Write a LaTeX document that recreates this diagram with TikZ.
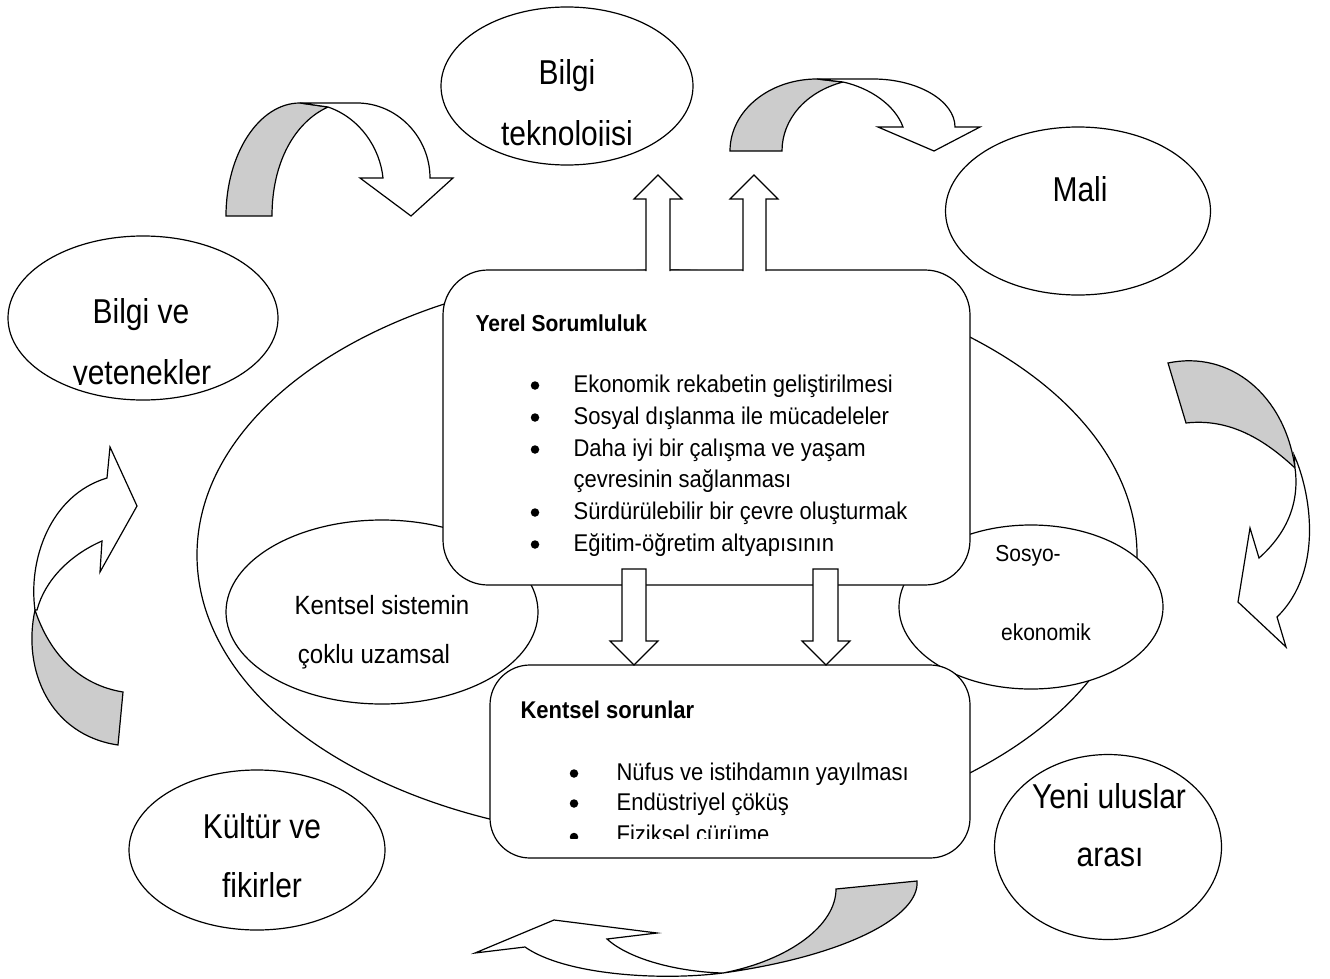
\documentclass[tikz,border=0pt]{standalone}
\usepackage{fontspec}
\setmainfont{Liberation Sans}
\usetikzlibrary{shapes.geometric}
\definecolor{shadegray}{RGB}{204,204,204}
\newcommand{\vstr}[1]{\scalebox{1}[1.15]{#1}}
\newcommand{\vstrb}[1]{\scalebox{1}[1.1]{#1}}
\begin{document}
\begin{tikzpicture}[x=1pt,y=-1pt,line width=1.2pt,
  oval/.style={draw,fill=white,ellipse,inner sep=0pt},
  rbox/.style={draw,fill=white,rectangle,inner sep=0pt},
  blockarrow/.style={draw,fill=white},
  backface/.style={draw,fill=shadegray},
  frontface/.style={draw,fill=white},
  lbl/.style={inner sep=0pt,anchor=base},
  lblw/.style={inner sep=0pt,anchor=base west},
  dotmark/.style={circle,fill=black,draw=none,inner sep=0pt,minimum size=8.5pt},
  bigtxt/.style={font=\fontsize{30}{36}\selectfont},
  midtxt/.style={font=\fontsize{24}{29}\selectfont},
  smtxt/.style={font=\fontsize{21}{25}\selectfont},
  bodytxt/.style={font=\fontsize{22}{26}\selectfont},
  headtxt/.style={font=\bfseries\fontsize{21}{25}\selectfont}
]
\useasboundingbox (0,0) rectangle (1330,979);

% big central ellipse
\node[oval,minimum width=940,minimum height=570] (bigell) at (667,555) {};
% inner ellipses
\node[oval,minimum width=312,minimum height=184] (kss) at (382,612) {};
\node[oval,minimum width=264,minimum height=164] (sosyo) at (1031,607) {};

% boxes
\node[rbox,rounded corners=45,minimum width=527,minimum height=315] (yerel) at (706.5,427.5) {};
\node[rbox,rounded corners=40,minimum width=480,minimum height=193] (kentsel) at (730,761.5) {};

% block arrows up
\draw[blockarrow] (646,271) -- (646,199) -- (634,199) -- (658,175) -- (682,199) -- (670,199) -- (670,271);
\draw[blockarrow] (743,271) -- (743,199) -- (730,199) -- (754,175) -- (778,199) -- (766,199) -- (766,271);
% block arrows down
\draw[blockarrow] (622,569) -- (646,569) -- (646,641) -- (658,641) -- (634,665) -- (610,641) -- (622,641) -- cycle;
\draw[blockarrow] (813,569) -- (838,569) -- (838,641) -- (850,641) -- (826,665) -- (802,641) -- (813,641) -- cycle;

% outer ellipses
\node[oval,minimum width=252,minimum height=158] (bt) at (567,86) {};
\node[oval,minimum width=265,minimum height=168] (mali) at (1078,211) {};
\node[oval,minimum width=270,minimum height=164] (bv) at (143,318) {};
\node[oval,minimum width=256,minimum height=160] (kf) at (257,850) {};
\node[oval,minimum width=227,minimum height=185] (yu) at (1108,847) {};

% curved arrow A (top left)
\draw[backface] (226,216) .. controls (226,154) and (259,103) .. (300,103) -- (328,107) .. controls (295,122) and (272,162) .. (272,216) -- cycle;
\draw[frontface] (300,103) -- (357,103) .. controls (397,103) and (430,137) .. (430,178) -- (453,178) -- (411,216) -- (360,178) -- (383,178) .. controls (380,148) and (360,118) .. (328,107) -- cycle;

% curved arrow B (top right)
\draw[backface] (730,151) .. controls (730,111) and (769,79) .. (817,79) -- (843,82) .. controls (805,92) and (782,120) .. (782,151) -- cycle;
\draw[frontface] (817,79) -- (873,79) .. controls (918,79) and (955,101) .. (955,127) -- (980,127) -- (934,151) -- (878,127) -- (903,127) .. controls (895,105) and (870,88) .. (843,82) -- cycle;

% curved arrow C (right)
\draw[backface] (1168,363) .. controls (1230,350) and (1285,395) .. (1295,468) .. controls (1265,440) and (1230,418) .. (1186,423) -- cycle;
\draw[frontface] (1294,455) .. controls (1310,490) and (1325,570) .. (1277,617) -- (1286,647) -- (1238,602) -- (1250,528) -- (1259,558) .. controls (1285,535) and (1300,505) .. (1295,468) -- cycle;

% curved arrow D (left)
\draw[backface] (118,745) .. controls (50,735) and (22,670) .. (35,610) .. controls (50,655) and (80,685) .. (123,692) -- cycle;
\draw[frontface] (35,610) .. controls (28,560) and (50,495) .. (107,478) -- (110,447) -- (137,506) -- (100,572) -- (102,541) .. controls (70,555) and (45,580) .. (37,610) -- cycle;

% curved arrow E (bottom)
\draw[backface] (917,881) .. controls (920,915) and (850,955) .. (723,973) .. controls (790,960) and (836,925) .. (836,889) -- cycle;
\draw[frontface] (723,973) .. controls (660,981) and (565,975) .. (525,947) -- (475,953) -- (554,920) -- (657,933) -- (607,939) .. controls (630,960) and (680,972) .. (723,973) -- cycle;

% texts of outer ellipses
\node[lbl,bigtxt] (btA) at (567,85) {\vstr{Bilgi}};
\begin{scope}
\clip (440,100) rectangle (700,146);
\node[lbl,bigtxt] (btB) at (567,146) {\vstr{teknolojisi}};
\end{scope}
\node[lbl,bigtxt] (maliA) at (1080,201) {\vstr{Mali}};
\node[lbl,bigtxt] (bvA) at (141,323) {\vstr{Bilgi ve}};
\begin{scope}
\clip (0,340) rectangle (280,384);
\node[lbl,bigtxt] (bvB) at (142,384) {\vstr{yetenekler}};
\end{scope}
\node[lbl,bigtxt] (kfA) at (262,838) {\vstr{Kültür ve}};
\node[lbl,bigtxt] (kfB) at (262,897) {\vstr{fikirler}};
\node[lbl,bigtxt] (yuA) at (1109,808) {\vstr{Yeni uluslar}};
\node[lbl,bigtxt] (yuB) at (1110,866) {\vstr{arası}};

% inner ellipse texts
\node[lbl,midtxt] (kssA) at (382,614) {\vstrb{Kentsel sistemin}};
\node[lbl,midtxt] (kssB) at (374,663) {\vstrb{çoklu uzamsal}};
\node[lbl,smtxt] (sosA) at (1028,561) {\vstrb{Sosyo-}};
\node[lbl,smtxt] (sosB) at (1046,640) {\vstrb{ekonomik}};

% Yerel Sorumluluk box
\node[lblw,headtxt] (yh) at (475,331) {\vstrb{Yerel Sorumluluk}};
\foreach \yy/\txt [count=\i] in {392/{Ekonomik rekabetin geliştirilmesi},424/{Sosyal dışlanma ile mücadeleler},456/{Daha iyi bir çalışma ve yaşam},519/{Sürdürülebilir bir çevre oluşturmak},551/{Eğitim-öğretim altyapısının}}{
  \node[dotmark] (yb\i) at (535,\yy-6.5) {};
  \node[lblw,bodytxt] (yt\i) at (573,\yy) {\vstrb{\txt}};
}
\node[lblw,bodytxt] (y3b) at (573,487) {\vstrb{çevresinin sağlanması}};

% Kentsel sorunlar box
\node[lblw,font=\bfseries\fontsize{22}{26}\selectfont,inner sep=0pt] (kh) at (520,718) {\vstrb{Kentsel sorunlar}};
\node[dotmark] (kb1) at (574,773.5) {};
\node[lblw,bodytxt] (kt1) at (616,780) {\vstrb{Nüfus ve istihdamın yayılması}};
\node[dotmark] (kb2) at (574,803.5) {};
\node[lblw,bodytxt] (kt2) at (616,810) {\vstrb{Endüstriyel çöküş}};
\begin{scope}
\clip (500,815) rectangle (960,838);
\node[dotmark] (kb3) at (574,837) {};
\node[lblw,bodytxt] (kt3) at (616,842) {\vstrb{Fiziksel çürüme}};
\end{scope}
\end{tikzpicture}
\end{document}
